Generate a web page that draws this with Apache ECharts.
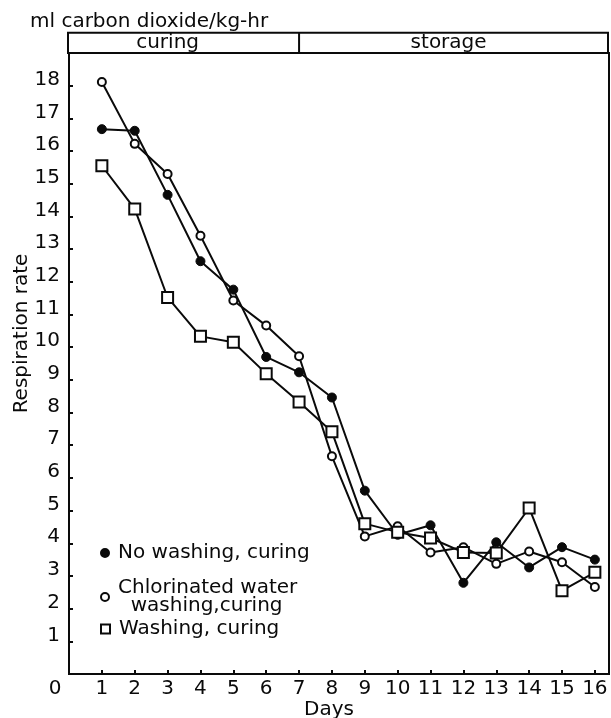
<!DOCTYPE html>
<html>
<head>
<meta charset="utf-8">
<script src="https://cdn.jsdelivr.net/npm/echarts@6/dist/echarts.min.js"></script>
<style>
html,body{margin:0;padding:0;background:#fff;}
#x1{width:611px;height:718px;}
</style>
</head>
<body>
<div id="x1"></div>
<script>
// values
var days = [1, 2, 3, 4, 5, 6, 7, 8, 9, 10, 11, 12, 13, 14, 15, 16];
var noWash = [16.67, 16.62, 14.66, 12.63, 11.76, 9.70, 9.23, 8.46, 5.61, 4.26, 4.55, 2.79, 4.03, 3.26, 3.88, 3.50];
var chlorWash = [18.11, 16.22, 15.30, 13.41, 11.43, 10.66, 9.72, 6.66, 4.21, 4.52, 3.72, 3.88, 3.37, 3.75, 3.42, 2.66];
var washCure = [15.55, 14.23, 11.52, 10.33, 10.15, 9.19, 8.32, 7.41, 4.60, 4.34, 4.16, 3.72, 3.70, 5.08, 2.55, 3.11];
var names = ['No washing, curing', 'Chlorinated water\nwashing,curing', 'Washing, curing'];
var phases = ['curing', 'storage'];
var phaseSplit = 7;

var font = 'DejaVu Sans';
var ink = '#0a0a0a';
var fs = 20;
var myChart;

window.onload = function(){
	myChart = echarts.init(document.getElementById('x1'));
	getChar();
	drawHeader();
};

function pairs(arr)
{
	var out = [];
	for (var i = 0; i < arr.length; i++) {
		out.push([days[i], arr[i]]);
	}
	return out;
}

function legendBox(name, top, size, icon, fill)
{
	return {
		data: [{name: name, icon: icon, itemStyle: {color: fill, borderColor: ink, borderWidth: 2}}],
		left: 100,
		top: top,
		padding: 0,
		itemWidth: size,
		itemHeight: size,
		selectedMode: false,
		formatter: function(n){ return n.replace('\n', '\n  '); },
		textStyle: {fontFamily: font, fontSize: fs, lineHeight: 18, color: ink, padding: [0, 0, 0, 4]}
	};
}

function getChar()
{
	var option = {
		backgroundColor: '#fff',
		animation: false,
		title: {
			text: 'ml carbon dioxide/kg-hr',
			left: 30,
			top: 12,
			padding: 0,
			textStyle: {fontFamily: font, fontSize: fs, fontWeight: 'normal', color: ink}
		},
		legend: [
			legendBox(names[0], 543, 8, 'circle', ink),
			legendBox(names[1], 578, 8, 'circle', '#fff'),
			legendBox(names[2], 619, 9, 'rect', '#fff')
		],
		grid: {
			left: 69,
			right: 2,
			top: 53,
			bottom: 44,
			show: true,
			borderColor: ink,
			borderWidth: 2,
			containLabel: false,
			outerBoundsMode: 'none'
		},
		xAxis: {
			type: 'value',
			min: 0,
			max: 16.43,
			interval: 1,
			name: 'Days',
			nameLocation: 'middle',
			nameGap: 26,
			nameMoveOverlap: false,
			nameTextStyle: {fontFamily: font, fontSize: fs, color: ink, padding: [0, 20, 0, 0]},
			axisLine: {lineStyle: {color: ink, width: 2}},
			axisTick: {inside: true, length: 4, lineStyle: {color: ink, width: 2}},
			splitLine: {show: false},
			axisLabel: {
				margin: 5,
				fontFamily: font,
				fontSize: fs,
				color: ink,
				formatter: function(v){
					if (v === 0) return '{z|0}';
					return (v % 1 === 0) ? String(v) : '';
				},
				rich: {z: {fontFamily: font, fontSize: fs, color: ink, padding: [0, 28, 0, 0]}}
			}
		},
		yAxis: {
			type: 'value',
			min: 0,
			max: 19,
			interval: 1,
			name: 'Respiration rate',
			nameLocation: 'middle',
			nameRotate: 90,
			nameGap: 37,
			nameMoveOverlap: false,
			nameTextStyle: {fontFamily: font, fontSize: fs, color: ink, padding: [0, 0, 0, 60]},
			axisLine: {lineStyle: {color: ink, width: 2}},
			axisTick: {inside: true, length: 4, lineStyle: {color: ink, width: 2}},
			splitLine: {show: false},
			axisLabel: {
				margin: 9,
				fontFamily: font,
				fontSize: fs,
				color: ink,
				verticalAlign: 'bottom',
				lineHeight: 12,
				formatter: function(v){ return (v > 0 && v < 19) ? String(v) : ''; }
			}
		},
		series: [
			{
				name: names[0],
				type: 'line',
				data: pairs(noWash),
				symbol: 'circle',
				symbolSize: 9,
				lineStyle: {color: ink, width: 2},
				itemStyle: {color: ink, borderColor: ink, borderWidth: 1}
			},
			{
				name: names[1],
				type: 'line',
				data: pairs(chlorWash),
				symbol: 'circle',
				symbolSize: 8,
				lineStyle: {color: ink, width: 2},
				itemStyle: {color: '#fff', borderColor: ink, borderWidth: 2}
			},
			{
				name: names[2],
				type: 'line',
				data: pairs(washCure),
				symbol: 'rect',
				symbolSize: 11,
				lineStyle: {color: ink, width: 2},
				itemStyle: {color: '#fff', borderColor: ink, borderWidth: 2}
			}
		]
	};
	myChart.setOption(option);
}

// curing / storage strip above the plot
function drawHeader()
{
	var bl = myChart.convertToPixel({gridIndex: 0}, [0, 19]);
	var tr = myChart.convertToPixel({gridIndex: 0}, [16.43, 19.62]);
	var mid = myChart.convertToPixel({gridIndex: 0}, [phaseSplit, 19]);
	var c1 = myChart.convertToPixel({gridIndex: 0}, [3.0, 19.31]);
	var c2 = myChart.convertToPixel({gridIndex: 0}, [11.55, 19.31]);
	myChart.setOption({
		graphic: [
			{type: 'rect', shape: {x: bl[0] - 1, y: tr[1], width: tr[0] - bl[0], height: bl[1] - tr[1]},
				style: {fill: 'none', stroke: ink, lineWidth: 2}},
			{type: 'line', shape: {x1: mid[0], y1: tr[1], x2: mid[0], y2: bl[1]},
				style: {stroke: ink, lineWidth: 2}},
			{type: 'text', x: c1[0], y: c1[1],
				style: {text: phases[0], fontFamily: font, fontSize: fs, fill: ink, align: 'center', verticalAlign: 'middle'}},
			{type: 'text', x: c2[0], y: c2[1],
				style: {text: phases[1], fontFamily: font, fontSize: fs, fill: ink, align: 'center', verticalAlign: 'middle'}}
		]
	});
}
</script>
</body>
</html>
